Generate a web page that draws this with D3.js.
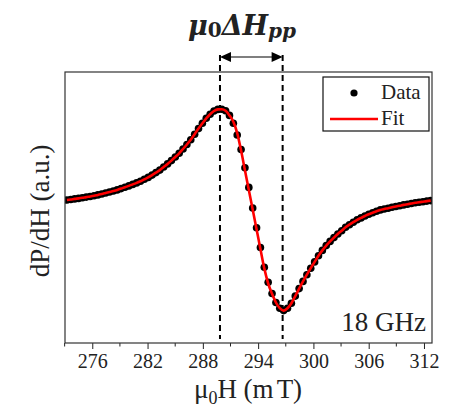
<!DOCTYPE html>
<html lang="en">
<head>
  <meta charset="UTF-8">
  <title>FMR derivative spectrum, 18 GHz</title>
  <script src="https://d3js.org/d3.v7.min.js"></script>
  <style>
    body { margin: 0; background: #fff; }
    text { font-family: "Liberation Serif", "Times New Roman", serif; fill: #222; }
  </style>
</head>
<body>
  <svg width="459" height="410"></svg>
  <script>
    const fieldStart = 273.25, fieldStep = 0.42;
    const dataSignal = [
      0.050, 0.055, 0.061, 0.066, 0.072, 0.079, 0.085, 0.092, 0.101, 0.110,
      0.120, 0.130, 0.140, 0.151, 0.164, 0.178, 0.191, 0.206, 0.221, 0.237,
      0.257, 0.276, 0.299, 0.324, 0.349, 0.380, 0.411, 0.444, 0.480, 0.517,
      0.560, 0.605, 0.652, 0.708, 0.764, 0.817, 0.867, 0.908, 0.940, 0.956,
      0.958, 0.942, 0.896, 0.818, 0.700, 0.555, 0.372, 0.176, -0.030, -0.228,
      -0.425, -0.622, -0.772, -0.885, -0.975, -1.032, -1.056, -1.033, -0.983, -0.911,
      -0.836, -0.764, -0.697, -0.632, -0.569, -0.507, -0.454, -0.406, -0.364, -0.326,
      -0.290, -0.257, -0.223, -0.197, -0.172, -0.148, -0.129, -0.110, -0.092, -0.077,
      -0.063, -0.049, -0.040, -0.032, -0.023, -0.015, -0.007, 0.001, 0.008, 0.015,
      0.022, 0.027, 0.033, 0.039, 0.044
    ];
    const fitSignal = [
      0.050, 0.055, 0.061, 0.066, 0.072, 0.079, 0.085, 0.092, 0.101, 0.110,
      0.120, 0.130, 0.140, 0.151, 0.164, 0.178, 0.191, 0.206, 0.221, 0.237,
      0.257, 0.276, 0.299, 0.324, 0.349, 0.380, 0.411, 0.444, 0.480, 0.517,
      0.560, 0.605, 0.652, 0.708, 0.764, 0.817, 0.867, 0.908, 0.940, 0.956,
      0.958, 0.942, 0.896, 0.833, 0.719, 0.544, 0.347, 0.150, -0.046, -0.243,
      -0.440, -0.634, -0.785, -0.888, -0.975, -1.032, -1.056, -1.033, -0.983, -0.911,
      -0.836, -0.764, -0.697, -0.632, -0.569, -0.507, -0.454, -0.406, -0.364, -0.326,
      -0.290, -0.257, -0.223, -0.197, -0.172, -0.148, -0.129, -0.110, -0.092, -0.077,
      -0.063, -0.049, -0.040, -0.032, -0.023, -0.015, -0.007, 0.001, 0.008, 0.015,
      0.022, 0.027, 0.033, 0.039, 0.044
    ];
    const field = dataSignal.map((d, i) => fieldStart + i * fieldStep);

    const xTicks = [276, 282, 288, 294, 300, 306, 312];
    const xMinorTicks = [273, 279, 285, 291, 297, 303, 309];
    const peakField = 289.86;   // positive peak
    const dipField = 296.66;    // negative peak
    const freqLabel = "18 GHz";

    const margin = {left: 65, top: 72, right: 27, bottom: 67};
    const width = 459, height = 410;

    const svg = d3.select("svg");

    const x = d3.scaleLinear()
      .domain([273.04, 312.87])
      .range([margin.left, width - margin.right]);
    const y = d3.scaleLinear()
      .domain([-1.38, 1.33])
      .range([height - margin.bottom, margin.top]);

    svg.append("clipPath").attr("id", "plotClip")
      .append("rect")
      .attr("x", margin.left).attr("y", margin.top)
      .attr("width", x.range()[1] - margin.left)
      .attr("height", y.range()[0] - margin.top);

    // x axis (outward ticks, no domain line: frame is drawn separately)
    const xAxis = svg.append("g")
      .attr("transform", `translate(0,${y.range()[0]})`)
      .call(d3.axisBottom(x).tickValues(xTicks).tickSize(6).tickPadding(5).tickFormat(d3.format("d")));
    xAxis.select(".domain").remove();
    xAxis.selectAll("text").style("font-size", "20px").attr("fill", "#222");
    xAxis.selectAll("line").attr("stroke", "#222");

    svg.append("g")
      .attr("transform", `translate(0,${y.range()[0]})`)
      .selectAll("line")
      .data(xMinorTicks)
      .join("line")
      .attr("x1", d => x(d)).attr("x2", d => x(d))
      .attr("y1", 0).attr("y2", 3.5)
      .attr("stroke", "#222");

    // dashed markers for peak-to-peak width
    const topY = 55;
    svg.append("g")
      .selectAll("line")
      .data([peakField, dipField])
      .join("line")
      .attr("x1", d => x(d)).attr("x2", d => x(d))
      .attr("y1", topY).attr("y2", y.range()[0] - 4)
      .attr("stroke", "#000")
      .attr("stroke-width", 2)
      .attr("stroke-dasharray", "6,4");

    // data and fit
    const plot = svg.append("g").attr("clip-path", "url(#plotClip)");
    plot.append("g")
      .selectAll("circle")
      .data(dataSignal)
      .join("circle")
      .attr("cx", (d, i) => x(field[i]))
      .attr("cy", d => y(d))
      .attr("r", 3.8)
      .attr("fill", "#000");

    plot.append("path")
      .datum(fitSignal)
      .attr("fill", "none")
      .attr("stroke", "#ff0000")
      .attr("stroke-width", 2.6)
      .attr("d", d3.line()
        .x((d, i) => x(field[i]))
        .y(d => y(d))
        .curve(d3.curveMonotoneX));

    // frame
    svg.append("rect")
      .attr("x", margin.left).attr("y", margin.top)
      .attr("width", x.range()[1] - margin.left)
      .attr("height", y.range()[0] - margin.top)
      .attr("fill", "none")
      .attr("stroke", "#333")
      .attr("stroke-width", 1.2);

    // double arrow
    const ay = 57, xa = x(peakField), xb = x(dipField);
    svg.append("line")
      .attr("x1", xa + 8).attr("x2", xb - 8)
      .attr("y1", ay).attr("y2", ay)
      .attr("stroke", "#000").attr("stroke-width", 1.2);
    svg.append("path")
      .attr("d", `M${xa},${ay} l11,-5 l0,10 Z M${xb},${ay} l-11,-5 l0,10 Z`)
      .attr("fill", "#000");

    // title: mu0 Delta H_pp
    const title = svg.append("text")
      .attr("x", 242).attr("y", 35)
      .attr("text-anchor", "middle")
      .style("font-family", "'DejaVu Serif', serif")
      .style("font-size", "27px")
      .style("font-weight", "bold")
      .attr("fill", "#000");
    title.append("tspan").style("font-style", "italic").text("μ");
    title.append("tspan").style("font-size", "20px").attr("dy", 2).text("0");
    title.append("tspan").style("font-style", "italic").attr("dy", -2).text("ΔH");
    title.append("tspan").style("font-style", "italic").style("font-size", "20px").attr("dy", 3).text("pp");

    // legend
    const lg = svg.append("g");
    lg.append("rect")
      .attr("x", 323).attr("y", 77)
      .attr("width", 106).attr("height", 54)
      .attr("fill", "#fff")
      .attr("stroke", "#111").attr("stroke-width", 1.2);
    lg.append("circle").attr("cx", 354).attr("cy", 93).attr("r", 3.6).attr("fill", "#000");
    lg.append("line")
      .attr("x1", 330).attr("x2", 378).attr("y1", 119).attr("y2", 119)
      .attr("stroke", "#ff0000").attr("stroke-width", 2.6);
    lg.append("text").attr("x", 381).attr("y", 99).style("font-size", "21px").text("Data");
    lg.append("text").attr("x", 381).attr("y", 125).style("font-size", "21px").text("Fit");

    // frequency label
    svg.append("text")
      .attr("x", 426).attr("y", 331)
      .attr("text-anchor", "end")
      .style("font-size", "27px")
      .text(freqLabel);

    // axis labels
    const xl = svg.append("text")
      .attr("x", 248).attr("y", 398)
      .attr("text-anchor", "middle")
      .style("font-size", "27px");
    xl.append("tspan").text("μ");
    xl.append("tspan").style("font-size", "18px").attr("dy", 6).text("0");
    xl.append("tspan").attr("dy", -6).text("H (m");
    xl.append("tspan").attr("dx", 3).text("T)");

    svg.append("text")
      .attr("transform", "translate(49,211) rotate(-90)")
      .attr("text-anchor", "middle")
      .style("font-size", "27px")
      .text("dP/dH (a.u.)");
  </script>
</body>
</html>
